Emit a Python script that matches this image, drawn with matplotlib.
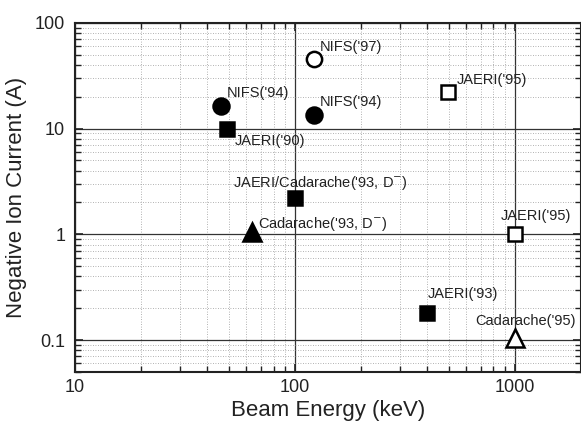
import matplotlib
matplotlib.use("Agg")
import matplotlib.pyplot as plt
from matplotlib.ticker import LogLocator, FixedLocator, NullFormatter, FixedFormatter

plt.rcParams['font.family'] = ['Liberation Sans', 'DejaVu Sans']

# Data
labels = ["NIFS('94)", "JAERI('90)", "NIFS('97)", "NIFS('94)", "JAERI('95)",
          "JAERI/Cadarache('93, D$^{-}$)", "Cadarache('93, D$^{-}$)", "JAERI('95)",
          "JAERI('93)", "Cadarache('95)"]
energy = [46, 49, 122, 122, 495, 100, 64, 1000, 400, 1000]
current = [16.5, 10.0, 46, 13.5, 22, 2.2, 1.05, 1.0, 0.18, 0.105]
markers = ['o', 's', 'o', 'o', 's', 's', '^', 's', 's', '^']
filled = [True, True, False, True, False, True, True, False, True, False]
sizes = [11.5, 10.5, 11, 11.5, 10.5, 10.5, 13, 10.5, 10.5, 13]
offsets = [(6, 13), (8, -12), (6, 12), (6, 13), (9, 12),
           (-62, 15), (6, 8), (-14, 18), (0, 19), (-40, 17)]

xticks = [10, 100, 1000]
xticklabels = ["10", "100", "1000"]
yticks = [0.1, 1, 10, 100]
yticklabels = ["0.1", "1", "10", "100"]

fig = plt.figure(figsize=(5.81, 4.24), dpi=100)
ax = fig.add_axes([0.129, 0.123, 0.871, 0.823])
ax.set_xscale('log')
ax.set_yscale('log')
ax.set_xlim(10, 2000)
ax.set_ylim(0.05, 100)

ax.xaxis.set_major_locator(FixedLocator(xticks))
ax.xaxis.set_major_formatter(FixedFormatter(xticklabels))
ax.yaxis.set_major_locator(FixedLocator(yticks))
ax.yaxis.set_major_formatter(FixedFormatter(yticklabels))
ax.xaxis.set_minor_locator(LogLocator(base=10, subs=range(2, 10), numticks=20))
ax.yaxis.set_minor_locator(LogLocator(base=10, subs=range(2, 10), numticks=20))
ax.xaxis.set_minor_formatter(NullFormatter())
ax.yaxis.set_minor_formatter(NullFormatter())

ax.grid(which='major', color='#333333', linewidth=0.9, linestyle='-')
ax.grid(which='minor', color='#999999', linewidth=0.6, linestyle=(0, (1, 2)))
ax.set_axisbelow(True)

ax.tick_params(which='both', direction='in', top=True, right=True, colors='#222222')
ax.tick_params(which='major', length=6, width=1.2, labelsize=13)
ax.tick_params(axis='x', which='major', pad=5)
ax.tick_params(axis='y', which='major', pad=7)
ax.tick_params(which='minor', length=4, width=1.0)
for s in ax.spines.values():
    s.set_linewidth(1.5)
    s.set_color('#222222')

for x, y, m, f, ms, lab, off in zip(energy, current, markers, filled, sizes, labels, offsets):
    ax.plot([x], [y], marker=m, markersize=ms, linestyle='none',
            markerfacecolor='black' if f else 'white', markeredgecolor='black',
            markeredgewidth=1.8, zorder=5)
    ax.annotate(lab, (x, y), xytext=off, textcoords='offset pixels',
                ha='left', va='center', fontsize=10.5, color='#222222', zorder=6,
                annotation_clip=False)

ax.set_xlabel("Beam Energy (keV)", fontsize=16, color='#222222', labelpad=3)
ax.set_ylabel("Negative Ion Current (A)", fontsize=16, color='#222222', labelpad=6)

fig.savefig("out.png", dpi=100)
